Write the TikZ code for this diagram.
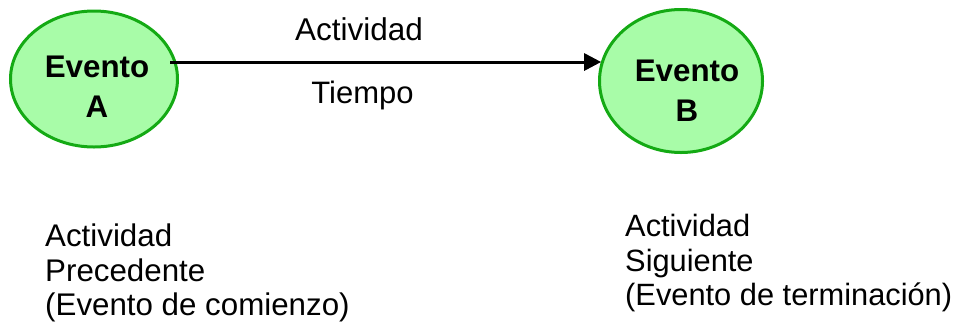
\documentclass[tikz,border=0pt]{standalone}
\usepackage{fontspec}
\setmainfont{Liberation Sans}
\usetikzlibrary{shapes.geometric,arrows.meta}
\definecolor{evfill}{RGB}{168,252,168}
\definecolor{evdraw}{RGB}{20,170,20}
\begin{document}
\begin{tikzpicture}[x=1pt,y=-1pt,
  event/.style={ellipse,draw=evdraw,fill=evfill,line width=3pt,inner sep=0pt},
  evtxt/.style={align=center,inner sep=0pt,font=\fontsize{31.3}{39.6}\selectfont\bfseries},
  lbl/.style={inner sep=0pt,font=\fontsize{31}{34}\selectfont},
  desc/.style={align=left,inner sep=0pt,anchor=north west,font=\fontsize{31.3}{34.5}\selectfont},
  arr/.style={line width=3pt,-{Triangle[length=17pt,width=17pt]}}]
\useasboundingbox (0,0) rectangle (965,325);
\node[event,minimum width=167pt,minimum height=136pt] (A) at (94,79) {};
\node[event,minimum width=163pt,minimum height=143pt] (B) at (681,81) {};
\node[evtxt] (At) at (97,86.5) {Evento\\A};
\node[evtxt] (Bt) at (687,90.5) {Evento\\B};
\coordinate (s) at (170,62);
\draw[arr] (s) -- (s -| B.166.5);
\node[lbl,anchor=base,font=\fontsize{31.5}{34}\selectfont] (act) at (359,40) {Actividad};
\node[lbl,anchor=base] (tie) at (362.5,103) {Tiempo};
\node[desc] (dA) at (45,224) {Actividad\\Precedente\\(Evento de comienzo)};
\node[desc,font=\fontsize{30.8}{34.5}\selectfont] (dB) at (625,214) {Actividad\\Siguiente\\(Evento de terminación)};
\end{tikzpicture}
\end{document}
